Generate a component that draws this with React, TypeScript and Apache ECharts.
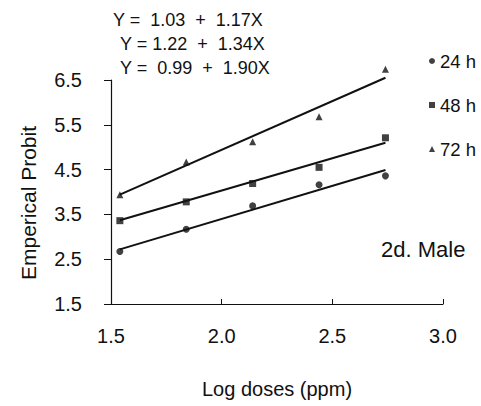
import React, { useEffect, useRef } from "react";
import * as echarts from "echarts";

const logDoses = [1.54, 1.84, 2.14, 2.44, 2.74];
const probit24 = [2.67, 3.17, 3.69, 4.16, 4.36];
const probit48 = [3.36, 3.78, 4.19, 4.55, 5.21];
const probit72 = [3.94, 4.67, 5.12, 5.68, 6.74];
const fitX = [1.54, 2.74];
const fit24 = [2.72, 4.49];
const fit48 = [3.37, 5.1];
const fit72 = [3.94, 6.55];
const seriesNames = ["24 h", "48 h", "72 h"];
const equations = ["Y =  1.03  +  1.17X", "Y = 1.22  +  1.34X", "Y =  0.99  +  1.90X"];
const panelLabel = "2d. Male";

const FONT = "Liberation Sans, Arial, sans-serif";

export default function App() {
  const ref = useRef<HTMLDivElement>(null);
  useEffect(() => {
    if (!ref.current) return;
    const chart = echarts.init(ref.current, undefined, { renderer: "svg" });
    const pts = (ys: number[]) => logDoses.map((x, i) => [x, ys[i]]);
    const fit = (ys: number[]) => fitX.map((x, i) => [x, ys[i]]);
    const symbols = ["circle", "rect", "triangle"];
    const allPts = [probit24, probit48, probit72];
    const allFits = [fit24, fit48, fit72];
    const series: any[] = [];
    allFits.forEach((f) => {
      series.push({
        type: "line",
        data: fit(f),
        symbol: "none",
        clip: false,
        lineStyle: { color: "#111", width: 2 },
        silent: true,
      });
    });
    allPts.forEach((p, i) => {
      series.push({
        name: seriesNames[i],
        type: "scatter",
        data: pts(p),
        symbol: symbols[i],
        symbolSize: 7,
        clip: false,
        itemStyle: { color: "#111" },
      });
    });
    chart.setOption({
      animation: false,
      backgroundColor: "#fff",
      textStyle: { fontFamily: FONT },
      grid: { left: 111, right: 38, top: 80, bottom: 102 },
      xAxis: {
        type: "value",
        min: 1.5,
        max: 3.0,
        interval: 0.5,
        name: "Log doses (ppm)",
        nameLocation: "middle",
        nameGap: 75,
        nameTextStyle: { fontSize: 20, color: "#111", fontFamily: FONT },
        axisLine: { lineStyle: { color: "#111", width: 1.2 } },
        axisTick: { inside: true, length: 5, lineStyle: { color: "#111" } },
        axisLabel: {
          margin: 22,
          fontSize: 20,
          color: "#111",
          fontFamily: FONT,
          formatter: (v: number) => v.toFixed(1),
        },
        splitLine: { show: false },
      },
      yAxis: {
        type: "value",
        min: 1.5,
        max: 6.5,
        interval: 1,
        name: "Emperical Probit",
        nameLocation: "middle",
        nameGap: 72,
        nameTextStyle: { fontSize: 21, color: "#111", fontFamily: FONT, padding: [0, 22, 0, 0] },
        axisLine: { show: true, lineStyle: { color: "#111", width: 1.2 } },
        axisTick: { show: true, length: 7, lineStyle: { color: "#111" } },
        axisLabel: {
          margin: 29,
          fontSize: 20,
          color: "#111",
          fontFamily: FONT,
          formatter: (v: number) => v.toFixed(1),
        },
        splitLine: { show: false },
      },
      legend: {
        data: seriesNames,
        orient: "vertical",
        left: 424,
        top: 46,
        itemWidth: 6,
        itemHeight: 6,
        itemGap: 24,
        textStyle: { fontSize: 18.5, color: "#111", fontFamily: FONT, lineHeight: 20 },
        selectedMode: false,
      },
      graphic: [
        ...equations.map((t, i) => ({
          type: "text",
          left: i === 0 ? 113 : 120,
          top: 11 + i * 24,
          style: { text: t, fontSize: 18, fill: "#111", fontFamily: FONT },
        })),
        {
          type: "text",
          left: 381,
          top: 238,
          style: { text: panelLabel, fontSize: 22, fill: "#111", fontFamily: FONT },
        },
      ],
      series,
    });
    return () => chart.dispose();
  }, []);
  return (
    <div
      ref={ref}
      style={{ position: "fixed", left: 0, top: 0, width: 481, height: 406 }}
    />
  );
}
